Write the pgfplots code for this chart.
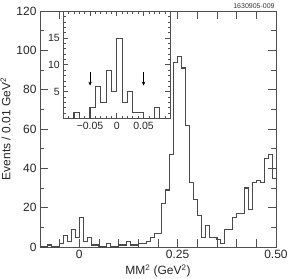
\documentclass[border=0pt]{standalone}
\usepackage{fontspec}
\setmainfont{Liberation Sans}
\usepackage{pgfplots}
\pgfplotsset{compat=1.18}
\usetikzlibrary{arrows.meta}
\definecolor{hist}{HTML}{4A4A4A}
\definecolor{axc}{HTML}{505050}
\pgfplotstableread{
x y
-0.10 0
-0.09 0
-0.08 1
-0.07 0
-0.06 0
-0.05 2
-0.04 6
-0.03 3
-0.02 9
-0.01 5
0.00 15
0.01 3
0.02 5
0.03 1
0.04 1
0.05 0
0.06 0
0.07 2
0.08 0
0.09 0
0.10 1
0.11 1
0.12 3
0.13 1
0.14 1
0.15 2
0.16 2
0.17 3
0.18 5
0.19 7
0.20 7
0.21 22
0.22 29
0.23 47
0.24 94
0.25 97
0.26 91
0.27 62
0.28 33
0.29 24
0.30 16
0.31 5
0.32 11
0.33 5
0.34 5
0.35 4
0.36 2
0.37 9
0.38 9
0.39 15
0.40 17
0.41 17
0.42 30
0.43 19
0.44 33
0.45 34
0.46 33
0.47 45
0.48 47
0.49 35
0.50 35
}\maindata
\pgfplotstableread{
x y
-0.10 0
-0.09 0
-0.08 1
-0.07 0
-0.06 0
-0.05 2
-0.04 6
-0.03 3
-0.02 9
-0.01 5
0.00 15
0.01 3
0.02 5
0.03 1
0.04 1
0.05 0
0.06 0
0.07 2
0.08 0
0.09 0
0.10 0
}\insetdata
\begin{document}
\begin{tikzpicture}
\useasboundingbox (-40pt,-32pt) rectangle (253pt,247pt);
\begin{axis}[
  at={(0pt,0pt)}, anchor=south west,
  scale only axis, width=236pt, height=236pt,
  xmin=-0.1, xmax=0.5, ymin=0, ymax=120,
  axis line style={draw=axc, line width=0.9pt},
  every tick/.style={draw=axc, line width=0.8pt},
  tick align=inside,
  major tick length=8pt, minor tick length=4.5pt,
  xtick={-0.1,-0.05,0,0.05,0.1,0.15,0.2,0.25,0.3,0.35,0.4,0.45,0.5},
  xticklabels={,,0,,,,,0.25,,,,,0.50},
  ytick={0,20,40,60,80,100,120},
  minor ytick={10,30,50,70,90,110},
  tick label style={font=\fontsize{12}{14}\selectfont, text=black!85},
  /pgf/number format/assume math mode=true,
  xlabel={MM\textsuperscript{2} (GeV\textsuperscript{2})},
  ylabel={Events / 0.01 GeV\textsuperscript{2}},
  label style={font=\fontsize{12}{14}\selectfont, text=black!85},
  xlabel style={yshift=1pt},
  ylabel style={yshift=-1pt},
  clip=false,
]
\addplot[const plot, draw=hist, line width=1.1pt] table[x=x,y=y] {\maindata};
\node[anchor=south east, inner sep=0pt, font=\fontsize{7}{8}\selectfont, text=black!80] at (rel axis cs:0.995,1.008) {1630905-009};
\end{axis}
\begin{axis}[
  at={(23.3pt,128.7pt)}, anchor=south west,
  scale only axis, width=107pt, height=107pt,
  xmin=-0.1, xmax=0.1, ymin=0, ymax=20,
  axis background/.style={fill=white},
  axis line style={draw=axc, line width=0.9pt},
  every tick/.style={draw=axc, line width=0.7pt},
  tick align=inside,
  major tick length=5pt, minor tick length=2.5pt,
  xtick={-0.05,0,0.05},
  xticklabels={−0.05,0,0.05},
  minor xtick={-0.09,-0.08,-0.07,-0.06,-0.04,-0.03,-0.02,-0.01,0.01,0.02,0.03,0.04,0.06,0.07,0.08,0.09},
  ytick={5,10,15},
  minor ytick={1,2,3,4,6,7,8,9,11,12,13,14,16,17,18,19},
  tick label style={font=\fontsize{10.5}{12}\selectfont, text=black!85},
  /pgf/number format/assume math mode=true,
]
\addplot[const plot, draw=hist, line width=1.1pt] table[x=x,y=y] {\insetdata};
\addplot[draw=black, line width=0.7pt, -{Stealth[length=4pt,width=3.5pt]}] coordinates {(-0.05,8.6) (-0.05,6.1)};
\addplot[draw=black, line width=0.7pt, -{Stealth[length=4pt,width=3.5pt]}] coordinates {(0.05,8.6) (0.05,6.1)};
\end{axis}
\end{tikzpicture}
\end{document}
